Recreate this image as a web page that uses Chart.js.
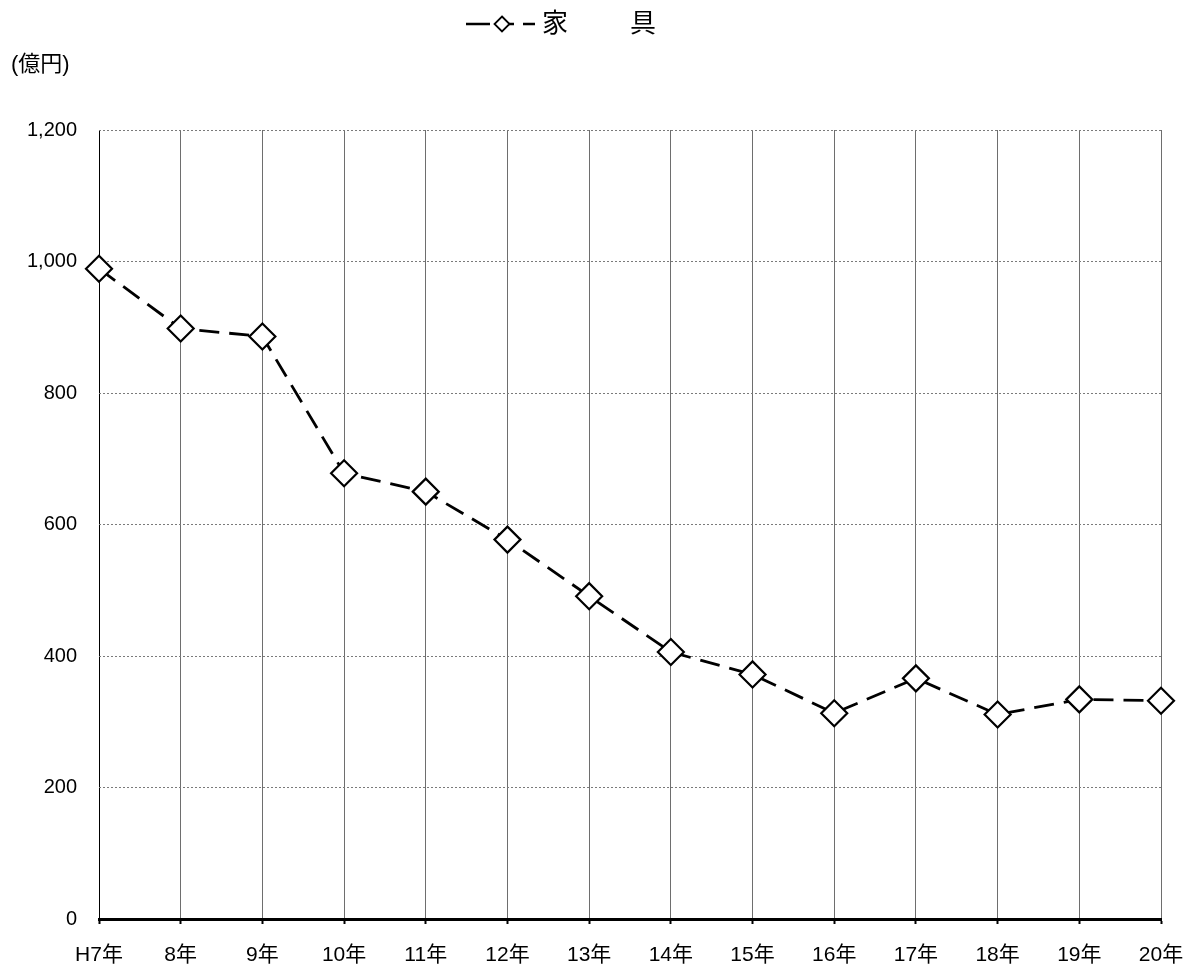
<!DOCTYPE html>
<html>
<head>
<meta charset="utf-8">
<script src="https://cdn.jsdelivr.net/npm/chart.js"></script>
<style>
	html, body { margin: 0; padding: 0; background: #fff; }
	#wrap { width: 1190px; height: 969px; }
</style>
</head>
<body>
<div id="wrap"><canvas id="furniture-chart"></canvas></div>
<script>
// Data
const years = ["H7年", "8年", "9年", "10年", "11年", "12年", "13年", "14年", "15年", "16年", "17年", "18年", "19年", "20年"];
const furniture = [989, 898, 886, 678, 650, 577, 491, 406, 372, 313, 366, 311, 334, 332];
const seriesName = "家　　具";
const unitLabel = "(億円)";
const yTicks = [0, 200, 400, 600, 800, 1000, 1200];

const FONT = "'Liberation Sans', 'Noto Sans CJK JP', sans-serif";

// Legend and unit label drawn on top of the canvas
const headerPlugin = {
	id: 'header',
	afterDraw(chart) {
		const ctx = chart.ctx;
		ctx.save();
		// unit label
		ctx.fillStyle = '#000';
		ctx.font = '22px ' + FONT;
		ctx.textBaseline = 'middle';
		ctx.textAlign = 'left';
		ctx.fillText(unitLabel, 11, 65);

		// legend line with diamond marker
		const y = 24;
		ctx.strokeStyle = '#000';
		ctx.lineWidth = 2.5;
		ctx.beginPath();
		ctx.moveTo(466, y); ctx.lineTo(490, y);
		ctx.moveTo(509, y); ctx.lineTo(514, y);
		ctx.moveTo(523, y); ctx.lineTo(535, y);
		ctx.stroke();
		ctx.fillStyle = '#fff';
		ctx.lineWidth = 1.8;
		ctx.beginPath();
		ctx.moveTo(502, y - 7.5); ctx.lineTo(509.5, y);
		ctx.lineTo(502, y + 7.5); ctx.lineTo(494.5, y);
		ctx.closePath();
		ctx.fill();
		ctx.stroke();

		// legend text
		ctx.fillStyle = '#000';
		ctx.font = '26px ' + FONT;
		ctx.textAlign = 'left';
		const parts = seriesName.split("　　");
		ctx.fillText(parts[0], 542, y + 1);
		ctx.fillText(parts[1], 630, y + 1);
		ctx.restore();
	}
};

new Chart(document.getElementById('furniture-chart'), {
	type: 'line',
	data: {
		labels: years,
		datasets: [{
			label: seriesName,
			data: furniture,
			borderColor: '#000',
			borderWidth: 2.8,
			borderDash: [20, 10],
			tension: 0,
			pointStyle: 'rectRot',
			pointRadius: 13,
			pointHoverRadius: 13,
			pointBackgroundColor: '#fff',
			pointBorderColor: '#000',
			pointBorderWidth: 2.2,
			clip: false
		}]
	},
	options: {
		responsive: true,
		maintainAspectRatio: false,
		animation: false,
		layout: { padding: { left: 0, right: 29, top: 130, bottom: 0 } },
		plugins: {
			legend: { display: false },
			tooltip: { enabled: false }
		},
		scales: {
			x: {
				offset: false,
				grid: {
					color: ctx => ctx.index === 0 ? '#000' : '#6e6e6e',
					lineWidth: 1,
					drawTicks: true,
					tickLength: 5,
					tickColor: '#000',
					tickWidth: 2
				},
				border: { display: true, color: '#000', width: 3 },
				ticks: {
					color: '#000',
					font: { family: FONT, size: 21 },
					padding: 19,
					maxRotation: 0,
					autoSkip: false
				},
				afterFit: scale => {
					scale.height = 50;
					scale.paddingLeft = 0;
					scale.paddingRight = 0;
				}
			},
			y: {
				min: 0,
				max: 1200,
				afterBuildTicks: scale => { scale.ticks = yTicks.map(v => ({ value: v })); },
				grid: {
					color: '#7a7a7a',
					lineWidth: 1,
					drawTicks: false
				},
				border: { display: false, dash: [2, 2] },
				ticks: {
					color: '#000',
					font: { family: FONT, size: 20 },
					padding: 22,
					callback: v => v.toLocaleString('en-US')
				},
				afterFit: scale => { scale.width = 99; }
			}
		}
	},
	plugins: [headerPlugin]
});
</script>
</body>
</html>
